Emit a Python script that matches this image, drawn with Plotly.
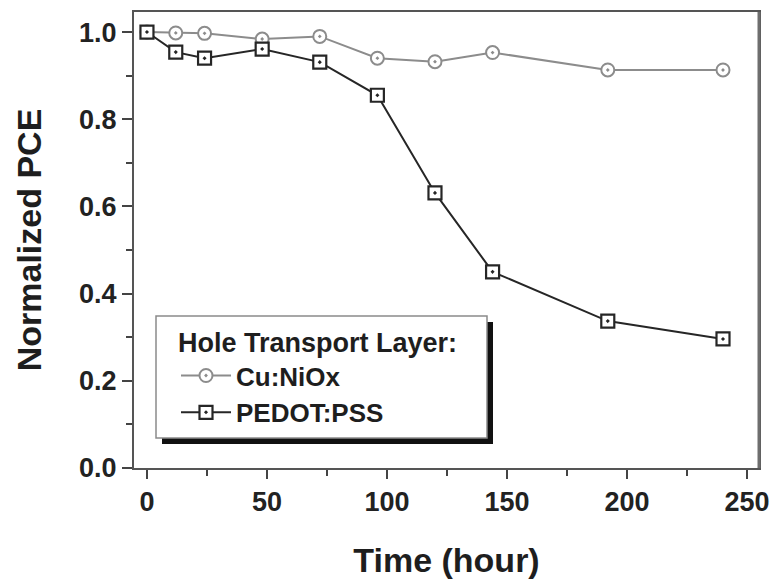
import plotly.graph_objects as go

# Aging time (hours) and normalized power-conversion efficiency per hole transport layer
hours = [0, 12, 24, 48, 72, 96, 120, 144, 192, 240]
cu_niox = [1.0, 0.998, 0.997, 0.984, 0.990, 0.940, 0.932, 0.953, 0.913, 0.913]
pedot_pss = [1.0, 0.954, 0.940, 0.961, 0.931, 0.855, 0.631, 0.450, 0.337, 0.296]

x_ticks = [0, 50, 100, 150, 200, 250]
y_ticks = [0.0, 0.2, 0.4, 0.6, 0.8, 1.0]
y_tick_text = ["0.0", "0.2", "0.4", "0.6", "0.8", "1.0"]

FONT = "Liberation Sans, Arial, Helvetica, sans-serif"
W, H = 773, 580
L, R, T, B = 134, 14, 12, 112

fig = go.Figure()

fig.add_trace(go.Scatter(
    x=hours, y=cu_niox, name="Cu:NiOx", mode="lines+markers",
    line=dict(color="#8c8c8c", width=2),
    marker=dict(symbol="circle-dot", size=13, color="white",
                line=dict(color="#8c8c8c", width=2)),
))
fig.add_trace(go.Scatter(
    x=hours, y=pedot_pss, name="PEDOT:PSS", mode="lines+markers",
    line=dict(color="#262626", width=2),
    marker=dict(symbol="square-dot", size=13, color="white",
                line=dict(color="#262626", width=2.2)),
))

# Legend frame with a drop shadow, drawn in plot-area pixel terms
pw, ph = W - L - R, H - T - B
def px(xp):
    return (xp - L) / pw
def py(yp):
    return (H - B - yp) / ph

box = (156, 316, 487, 438)
shadow_off = 6
shapes = [
    dict(type="rect", xref="paper", yref="paper", layer="above",
         x0=px(box[0] + shadow_off), x1=px(box[2] + shadow_off),
         y0=py(box[3] + shadow_off), y1=py(box[1] + shadow_off),
         fillcolor="#111111", line=dict(width=0)),
    dict(type="rect", xref="paper", yref="paper", layer="above",
         x0=px(box[0]), x1=px(box[2]), y0=py(box[3]), y1=py(box[1]),
         fillcolor="white", line=dict(color="#8a8a8a", width=1.5)),
    # heavier right frame edge
    dict(type="line", xref="paper", yref="paper", layer="above",
         x0=1, x1=1, y0=0, y1=1, line=dict(color="#6e6e6e", width=3)),
]

fig.update_layout(
    width=W, height=H,
    margin=dict(l=L, r=R, t=T, b=B, autoexpand=False),
    paper_bgcolor="white", plot_bgcolor="white",
    font=dict(family=FONT, color="#1e1e1e", size=26, weight="bold"),
    shapes=shapes,
    showlegend=True,
    legend=dict(
        x=px(176), y=py(317), xanchor="left", yanchor="top",
        bgcolor="rgba(0,0,0,0)", borderwidth=0,
        itemwidth=50,
        title=dict(text="Hole Transport Layer:",
                   font=dict(family=FONT, size=27, color="#1e1e1e", weight="bold")),
        font=dict(family=FONT, size=26, color="#1e1e1e", weight="bold"),
        tracegroupgap=0,
    ),
    xaxis=dict(
        range=[-5.4, 255], tickmode="array", tickvals=x_ticks,
        automargin=False,
        ticks="outside", ticklen=9, tickwidth=2, tickcolor="#444",
        minor=dict(dtick=25, tick0=0, ticks="outside", ticklen=6,
                   tickwidth=2, tickcolor="#444"),
        showline=True, linecolor="#555", linewidth=2, mirror=True,
        showgrid=False, zeroline=False,
        tickfont=dict(family=FONT, size=27, color="#222", weight="bold"),
        title=dict(text="Time (hour)", standoff=32,
                   font=dict(family=FONT, size=34, color="#1e1e1e", weight="bold")),
    ),
    yaxis=dict(
        range=[0, 1.046], tickmode="array", tickvals=y_ticks, ticktext=y_tick_text,
        automargin=False,
        ticks="outside", ticklen=10, tickwidth=2, tickcolor="#444",
        minor=dict(dtick=0.1, tick0=0, ticks="outside", ticklen=6,
                   tickwidth=2, tickcolor="#444"),
        showline=True, linecolor="#555", linewidth=2, mirror=True,
        showgrid=False, zeroline=False,
        tickfont=dict(family=FONT, size=27, color="#222", weight="bold"),
        title=dict(text="Normalized PCE", standoff=27,
                   font=dict(family=FONT, size=34, color="#1e1e1e", weight="bold")),
    ),
)

fig.write_html("out.html")
